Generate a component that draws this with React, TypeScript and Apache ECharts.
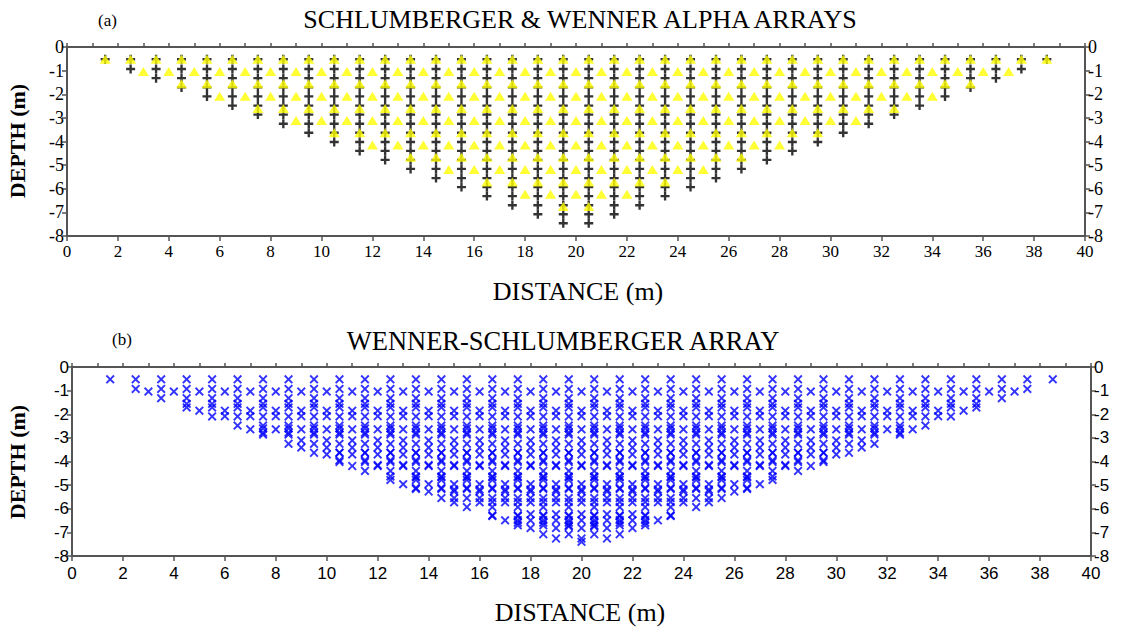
import React, { useEffect, useRef } from "react";
import * as echarts from "echarts";

// ---- Panel (a): Schlumberger (a = 1 m, n = 1..19) – pseudo-depth of each data level and first/last midpoint
const schlumDepth = [-0.52, -0.93, -1.32, -1.71, -2.09, -2.48, -2.86, -3.25, -3.63, -4.02, -4.4, -4.78, -5.16, -5.55, -5.93, -6.31, -6.7, -7.08, -7.46];
const schlumFirstX = [1.5, 2.5, 3.5, 4.5, 5.5, 6.5, 7.5, 8.5, 9.5, 10.5, 11.5, 12.5, 13.5, 14.5, 15.5, 16.5, 17.5, 18.5, 19.5];
const schlumLastX = [38.5, 37.5, 36.5, 35.5, 34.5, 33.5, 32.5, 31.5, 30.5, 29.5, 28.5, 27.5, 26.5, 25.5, 24.5, 23.5, 22.5, 21.5, 20.5];

// ---- Panel (a): Wenner alpha (a = 1..13 m)
const wennerDepth = [-0.52, -1.04, -1.56, -2.08, -2.6, -3.11, -3.63, -4.15, -4.67, -5.19, -5.71, -6.23, -6.75];
const wennerFirstX = [1.5, 3, 4.5, 6, 7.5, 9, 10.5, 12, 13.5, 15, 16.5, 18, 19.5];
const wennerLastX = [38.5, 37, 35.5, 34, 32.5, 31, 29.5, 28, 26.5, 25, 23.5, 22, 20.5];

// ---- Panel (b): Wenner-Schlumberger data levels (depth, first and last midpoint)
const wsDepth = [
  // a = 1, n = 1..18
  -0.52, -0.93, -1.32, -1.71, -2.09, -2.48, -2.86, -3.25, -3.63, -4.02, -4.4, -4.78, -5.16, -5.55, -5.93, -6.31, -6.7, -7.08,
  // a = 2, n = 1..9
  -1.04, -1.85, -2.64, -3.41, -4.19, -4.96, -5.73, -6.49, -7.26,
  // a = 3, n = 1..5
  -1.56, -2.78, -3.95, -5.12, -6.28,
  // a = 4, n = 1..4
  -2.08, -3.7, -5.27, -6.82,
  // a = 5, n = 1..3
  -2.6, -4.63, -6.59,
  // a = 6, n = 1..2
  -3.11, -5.55,
  // a = 7, n = 1..2
  -3.63, -6.48,
  // a = 8, n = 1..2
  -4.15, -7.4,
  // a = 9..13, n = 1
  -4.67, -5.19, -5.71, -6.23, -6.75,
];
const wsFirstX = [
  1.5, 2.5, 3.5, 4.5, 5.5, 6.5, 7.5, 8.5, 9.5, 10.5, 11.5, 12.5, 13.5, 14.5, 15.5, 16.5, 17.5, 18.5,
  3, 5, 7, 9, 11, 13, 15, 17, 19,
  4.5, 7.5, 10.5, 13.5, 16.5,
  6, 10, 14, 18,
  7.5, 12.5, 17.5,
  9, 15,
  10.5, 17.5,
  12, 20,
  13.5, 15, 16.5, 18, 19.5,
];
const wsLastX = [
  38.5, 37.5, 36.5, 35.5, 34.5, 33.5, 32.5, 31.5, 30.5, 29.5, 28.5, 27.5, 26.5, 25.5, 24.5, 23.5, 22.5, 21.5,
  37, 35, 33, 31, 29, 27, 25, 23, 21,
  35.5, 32.5, 29.5, 26.5, 23.5,
  34, 30, 26, 22,
  32.5, 27.5, 22.5,
  31, 25,
  29.5, 22.5,
  28, 20,
  26.5, 25, 23.5, 22, 20.5,
];

// station (electrode) spacing along each data level, in m
const stationStep = 1;

// axis ranges / ticks
const distanceMin = 0;
const distanceMax = 40;
const distanceLabelStep = 2;
const depthMin = -8;
const depthMax = 0;
const depthStep = 1;

const titleA = "SCHLUMBERGER & WENNER ALPHA ARRAYS";
const titleB = "WENNER-SCHLUMBERGER ARRAY";

function expandLevels(depths: number[], first: number[], last: number[]) {
  const pts: number[][] = [];
  depths.forEach((d, i) => {
    for (let x = first[i]; x <= last[i] + 1e-9; x += stationStep) pts.push([x, d]);
  });
  return pts;
}

const SERIF = "Liberation Serif";
const SANS = "Liberation Sans";

const PLUS = "path://M3.7,0H6.3V3.7H10V6.3H6.3V10H3.7V6.3H0V3.7H3.7Z";
const CROSS = "path://M0,1.5L1.5,0L5,3.5L8.5,0L10,1.5L6.5,5L10,8.5L8.5,10L5,6.5L1.5,10L0,8.5L3.5,5Z";

const AXIS_COLOR = "#555555";

function xAxes(grid: number, font: string, labelMargin: number) {
  return [
    {
      type: "value", gridIndex: grid, position: "bottom", min: distanceMin, max: distanceMax, interval: distanceLabelStep,
      axisLine: { show: true, onZero: false, lineStyle: { color: AXIS_COLOR, width: 2 } },
      axisTick: { show: true, inside: false, length: 5, lineStyle: { color: AXIS_COLOR, width: 1.5 } },
      splitLine: { show: false },
      axisLabel: { show: true, fontFamily: font, fontSize: 17, color: "#000", margin: labelMargin, showMinLabel: true, showMaxLabel: true },
    },
    {
      type: "value", gridIndex: grid, position: "top", min: distanceMin, max: distanceMax, interval: 1,
      axisLine: { show: true, onZero: false, lineStyle: { color: AXIS_COLOR, width: 2 } },
      axisTick: { show: true, inside: false, length: 4, lineStyle: { color: AXIS_COLOR, width: 1.5 } },
      splitLine: { show: false },
      axisLabel: { show: false },
    },
  ];
}

function yAxes(grid: number, font: string, size: number) {
  const base = (pos: string) => ({
    type: "value", gridIndex: grid, position: pos, min: depthMin, max: depthMax, interval: depthStep,
    axisLine: { show: true, onZero: false, lineStyle: { color: AXIS_COLOR, width: 2 } },
    axisTick: { show: true, inside: false, length: 5, lineStyle: { color: AXIS_COLOR, width: 1.5 } },
    splitLine: { show: false },
    axisLabel: { show: true, fontFamily: font, fontSize: size, color: "#000", margin: 3, showMinLabel: true, showMaxLabel: true },
  });
  return [base("left"), base("right")];
}

export default function App() {
  const ref = useRef<HTMLDivElement>(null);

  useEffect(() => {
    if (!ref.current) return;
    const chart = echarts.init(ref.current, undefined, { renderer: "svg" });

    const schlum = expandLevels(schlumDepth, schlumFirstX, schlumLastX);
    const wenner = expandLevels(wennerDepth, wennerFirstX, wennerLastX);
    const ws = expandLevels(wsDepth, wsFirstX, wsLastX);

    chart.setOption({
      animation: false,
      backgroundColor: "#ffffff",
      grid: [
        { left: 67, top: 47, width: 1018, height: 189 },
        { left: 72, top: 367, width: 1019, height: 189 },
      ],
      xAxis: [...xAxes(0, SERIF, 7), ...xAxes(1, SANS, 9)],
      yAxis: [...yAxes(0, SERIF, 18), ...yAxes(1, SANS, 17)],
      series: [
        {
          name: "Schlumberger", type: "scatter", xAxisIndex: 0, yAxisIndex: 0, z: 2,
          symbol: PLUS, symbolSize: 9, itemStyle: { color: "#000000" }, data: schlum,
        },
        {
          name: "Wenner alpha", type: "scatter", xAxisIndex: 0, yAxisIndex: 0, z: 3,
          symbol: "triangle", symbolSize: [11, 9], itemStyle: { color: "#ffff00" }, data: wenner,
        },
        {
          name: "Wenner-Schlumberger", type: "scatter", xAxisIndex: 2, yAxisIndex: 2, z: 2,
          symbol: CROSS, symbolSize: 9, itemStyle: { color: "#0000ff" }, data: ws,
        },
      ],
      graphic: [
        { type: "text", x: 98, y: 20, style: { text: "(a)", font: `17px ${SERIF}`, fill: "#000", verticalAlign: "middle" } },
        { type: "text", x: 580, y: 19, style: { text: titleA, font: `26px ${SERIF}`, fill: "#000", align: "center", verticalAlign: "middle" } },
        { type: "text", x: 112, y: 339, style: { text: "(b)", font: `17px ${SERIF}`, fill: "#000", verticalAlign: "middle" } },
        { type: "text", x: 563, y: 341, style: { text: titleB, font: `26.5px ${SERIF}`, fill: "#000", align: "center", verticalAlign: "middle" } },
        { type: "text", x: 17, y: 141, rotation: Math.PI / 2, style: { text: "DEPTH (m)", font: `bold 22px ${SERIF}`, fill: "#000", align: "center", verticalAlign: "middle" } },
        { type: "text", x: 17, y: 462, rotation: Math.PI / 2, style: { text: "DEPTH (m)", font: `bold 22px ${SERIF}`, fill: "#000", align: "center", verticalAlign: "middle" } },
        { type: "text", x: 578, y: 291, style: { text: "DISTANCE (m)", font: `26px ${SERIF}`, fill: "#000", align: "center", verticalAlign: "middle" } },
        { type: "text", x: 580, y: 612, style: { text: "DISTANCE (m)", font: `26px ${SERIF}`, fill: "#000", align: "center", verticalAlign: "middle" } },
      ],
    });

    return () => chart.dispose();
  }, []);

  return (
    <div
      ref={ref}
      style={{ position: "fixed", left: 0, top: 0, width: 1128, height: 631, background: "#fff" }}
    />
  );
}
